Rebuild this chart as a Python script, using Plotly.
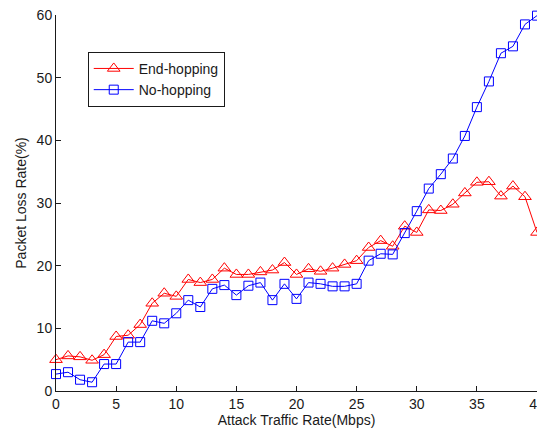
import plotly.graph_objects as go

x = list(range(0, 41))
end_hopping = [5.0, 5.6, 5.45, 4.9, 5.8, 8.7, 8.9, 10.6, 14.0, 15.6,
               15.1, 17.8, 17.3, 17.8, 19.6, 18.6, 18.6, 19.0, 19.3, 20.5,
               18.6, 19.5, 19.1, 19.6, 20.2, 20.8, 22.9, 24.0, 23.1, 26.3,
               25.3, 28.9, 28.8, 29.8, 31.6, 33.3, 33.4, 31.1, 32.7, 31.0,
               25.3]
no_hopping = [2.7, 3.0, 1.8, 1.4, 4.3, 4.3, 7.8, 7.8, 11.2, 10.8,
              12.4, 14.5, 13.4, 16.3, 16.9, 15.3, 16.8, 17.3, 14.5, 17.1,
              14.7, 17.3, 17.1, 16.7, 16.7, 17.1, 20.8, 21.9, 21.8, 25.2,
              28.7, 32.3, 34.6, 37.1, 40.7, 45.3, 49.4, 53.9, 55.0, 58.5,
              59.9]
x_ticks = [0, 5, 10, 15, 20, 25, 30, 35, 40]
y_ticks = [0, 10, 20, 30, 40, 50, 60]

font = "Liberation Sans, Arial, sans-serif"
ink = "#1a1a1a"

fig = go.Figure()
fig.add_trace(go.Scatter(
    x=x, y=end_hopping, name="End-hopping", mode="lines+markers",
    line=dict(color="#ff0000", width=1),
    marker=dict(symbol="triangle-up-open", size=11, color="#ff0000",
                line=dict(width=1, color="#ff0000")),
    cliponaxis=False,
))
fig.add_trace(go.Scatter(
    x=x, y=no_hopping, name="No-hopping", mode="lines+markers",
    line=dict(color="#0000ff", width=1),
    marker=dict(symbol="square-open", size=9, color="#0000ff",
                line=dict(width=1, color="#0000ff")),
    cliponaxis=False,
))

fig.update_layout(
    width=537, height=432,
    margin=dict(l=56, r=0, t=15, b=41, autoexpand=False),
    paper_bgcolor="white", plot_bgcolor="white",
    font=dict(family=font, size=14, color=ink),
    showlegend=True,
    legend=dict(
        x=0.066, y=0.902, xanchor="left", yanchor="top",
        bgcolor="white", bordercolor=ink, borderwidth=1,
        font=dict(family=font, size=14, color=ink),
        itemwidth=40, tracegroupgap=0,
    ),
    xaxis=dict(
        range=[0, 40], tickvals=x_ticks, ticktext=[str(v) for v in x_ticks],
        showgrid=False, zeroline=False, automargin=False,
        showline=True, linecolor=ink, linewidth=1,
        ticks="inside", ticklen=5, tickcolor=ink,
        ticklabeloverflow="allow",
        title=dict(text="Attack Traffic Rate(Mbps)", standoff=3,
                   font=dict(family=font, size=14, color=ink)),
        tickfont=dict(family=font, size=14, color=ink),
    ),
    yaxis=dict(
        range=[0, 60], tickvals=y_ticks, ticktext=[str(v) for v in y_ticks],
        showgrid=False, zeroline=False, automargin=False,
        showline=True, linecolor=ink, linewidth=1,
        ticks="inside", ticklen=5, tickcolor=ink,
        ticklabeloverflow="allow",
        title=dict(text="Packet Loss Rate(%)", standoff=6,
                   font=dict(family=font, size=14, color=ink)),
        tickfont=dict(family=font, size=14, color=ink),
    ),
)

fig.write_html("out.html")
